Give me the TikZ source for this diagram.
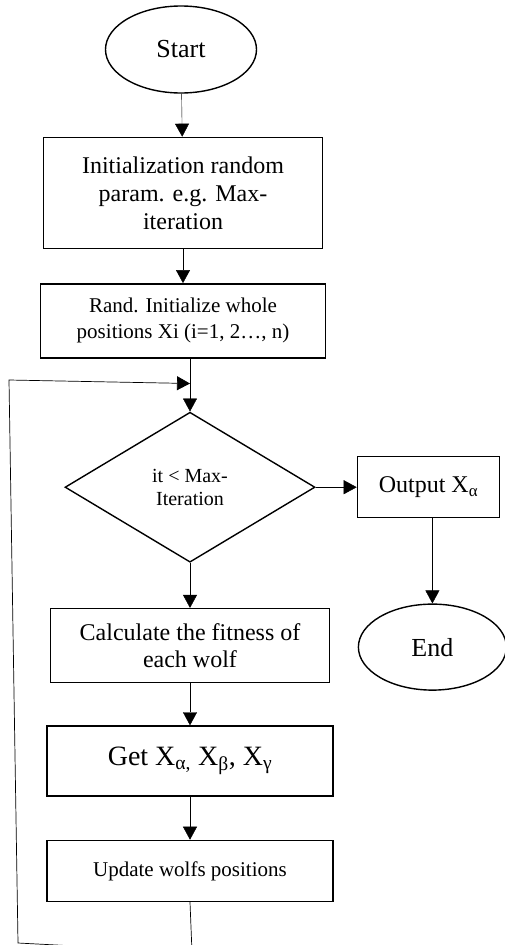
\documentclass[tikz,border=0pt]{standalone}
\usepackage{fontspec}
\setmainfont{Liberation Serif}
\usetikzlibrary{shapes.geometric, positioning, arrows.meta}
\tikzset{
    ->, % every connector gets a head
    >={Triangle[length=13pt, width=14pt]}, % big filled heads
    x=1pt, y=1pt, % one unit is one pixel of the sketch
    line width=0.9pt,
    every node/.style={align=center, inner sep=0pt},
    process/.style={draw, rectangle, line width=1.4pt}, % plain boxes
    terminal/.style={draw, ellipse, line width=1.4pt}, % start and end
    decision/.style={draw, diamond, line width=1.4pt}, % the loop test
}

\begin{document}
\begin{tikzpicture}
    \useasboundingbox (0,0) rectangle (505,-945);
    \node[terminal, minimum width=151pt, minimum height=87pt, font=\fontsize{26}{30}\selectfont] (start) at (181,-49.5) {Start};
    \node[process, minimum width=279pt, minimum height=111pt, font=\fontsize{24}{28}\selectfont, below=43pt of start, xshift=2pt] (init) {Initialization random\\param. e.g. Max-\\iteration};
    \node[process, minimum width=285pt, minimum height=74pt, font=\fontsize{21}{26}\selectfont, below=34pt of init] (rand) {Rand. Initialize whole\\positions Xi (i=1, 2…, n)};
    \node[decision, minimum width=250pt, minimum height=150pt, font=\fontsize{20}{23}\selectfont, below=53pt of rand, xshift=7pt] (test) {it < Max-\\Iteration};
    \node[process, minimum width=142pt, minimum height=61pt, font=\fontsize{24}{28}\selectfont, right=41pt of test] (output) {Output X\textsubscript{α}};
    \node[terminal, minimum width=148pt, minimum height=86pt, font=\fontsize{26}{30}\selectfont, below=85pt of output, xshift=4pt] (stop) {End};
    \node[process, minimum width=279pt, minimum height=74pt, font=\fontsize{24}{27}\selectfont, below=45pt of test] (fitness) {Calculate the fitness of\\each wolf};
    \node[process, minimum width=286pt, minimum height=70pt, font=\fontsize{28}{32}\selectfont, below=42pt of fitness] (best) {Get X\textsubscript{α,} X\textsubscript{β}, X\textsubscript{γ}};
    \node[process, minimum width=286pt, minimum height=61pt, font=\fontsize{21}{25}\selectfont, below=43pt of best] (update) {Update wolfs positions};
    \coordinate[above=28pt of test.north] (merge);
    \coordinate[below=50pt of update.south, xshift=2pt] (loopa);
    \coordinate (loopb) at (18,-943);
    \coordinate (loopc) at (9,-380);
    \path
    (start) edge (init)
    (init) edge (rand)
    (rand.south -| test.north) edge (test.north)
    (test) edge (output)
    (output.south -| stop.north) edge (stop)
    (test) edge (fitness)
    (fitness) edge (best)
    (best) edge (update);
    \draw[line width=0.7pt] (update.south) -- (loopa) -- (loopb) -- (loopc) -- (merge);
\end{tikzpicture}
\end{document}
